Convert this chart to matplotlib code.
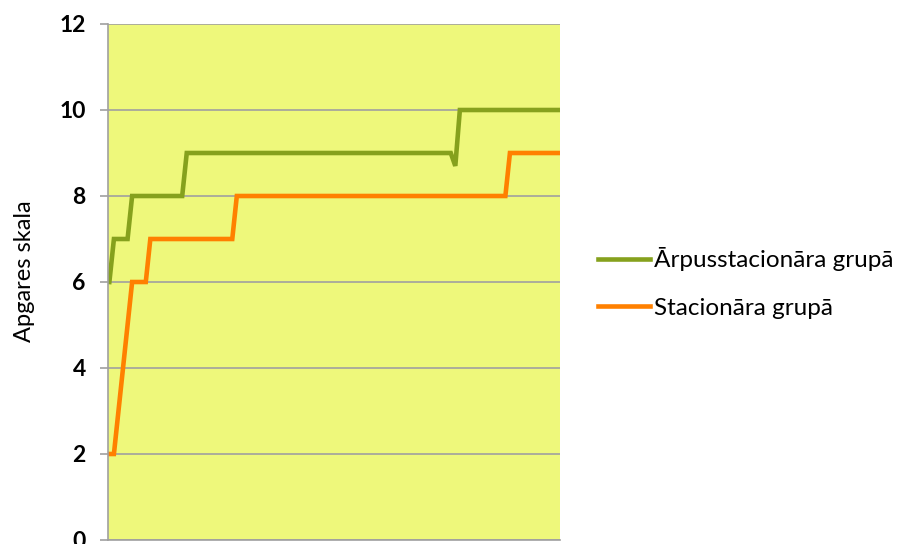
import matplotlib.pyplot as plt

# Apgar score per newborn, sorted ascending within each group
arpus_stac = [6,
              7, 7, 7, 7,
              8, 8, 8, 8, 8, 8, 8, 8, 8, 8, 8, 8,
              9, 9, 9, 9, 9, 9, 9, 9, 9, 9, 9, 9, 9, 9, 9, 9, 9, 9, 9, 9,
              9, 9, 9, 9, 9, 9, 9, 9, 9, 9, 9, 9, 9, 9, 9, 9, 9, 9, 9, 9,
              9, 9, 9, 9, 9, 9, 9, 9, 9, 9, 9, 9, 9, 9, 9, 9, 9, 9, 9,
              8.7,
              10, 10, 10, 10, 10, 10, 10, 10, 10, 10, 10, 10, 10, 10, 10, 10,
              10, 10, 10, 10, 10, 10, 10]
stac = [2, 2, 3, 4, 5,
        6, 6, 6, 6,
        7, 7, 7, 7, 7, 7, 7, 7, 7, 7, 7, 7, 7, 7, 7, 7, 7, 7, 7,
        8, 8, 8, 8, 8, 8, 8, 8, 8, 8, 8, 8, 8, 8, 8, 8, 8, 8, 8, 8,
        8, 8, 8, 8, 8, 8, 8, 8, 8, 8, 8, 8, 8, 8, 8, 8, 8, 8, 8, 8,
        8, 8, 8, 8, 8, 8, 8, 8, 8, 8, 8, 8, 8, 8, 8, 8, 8, 8, 8, 8,
        9, 9, 9, 9, 9, 9, 9, 9, 9, 9, 9, 9]
labels = ['Ārpusstacionāra grupā', 'Stacionāra grupā']
yticks = [0, 2, 4, 6, 8, 10, 12]

plt.rcParams['font.family'] = ['Lato', 'DejaVu Sans']

fig = plt.figure(figsize=(9.04, 5.44), dpi=100)
ax = fig.add_axes([108 / 904, 1 - 540 / 544, 452 / 904, 516 / 544])
ax.set_facecolor('#eef87b')

ax.plot(range(len(arpus_stac)), arpus_stac, color='#86a11d', lw=3.3,
        label=labels[0], solid_joinstyle='miter')
ax.plot(range(len(stac)), stac, color='#ff8000', lw=3.3,
        label=labels[1], solid_joinstyle='miter')

ax.set_xlim(-0.3, len(stac) - 1)
ax.set_ylim(0, 12)
ax.set_yticks(yticks)
ax.set_xticks([])
ax.yaxis.grid(True, color='#a0a0a0', lw=1.2)
ax.set_axisbelow(True)
for s in ['top', 'right']:
    ax.spines[s].set_visible(False)
for s in ['left', 'bottom']:
    ax.spines[s].set_color('#a0a0a0')
    ax.spines[s].set_linewidth(1.2)
ax.tick_params(axis='y', length=6, width=1.2, color='#a0a0a0', pad=10,
               labelsize=16.5)
for t in ax.get_yticklabels():
    t.set_fontweight('bold')
ax.set_ylabel('Apgares skala', fontsize=17)
ax.yaxis.set_label_coords(-73 / 452, 0.52)

fig.legend(loc='center left', bbox_to_anchor=(598 / 904, 1 - 283 / 544),
           frameon=False, fontsize=17.5, handlelength=2.15, handletextpad=0.15,
           labelspacing=1.1, borderpad=0, borderaxespad=0)

fig.savefig('out.png', dpi=100)
